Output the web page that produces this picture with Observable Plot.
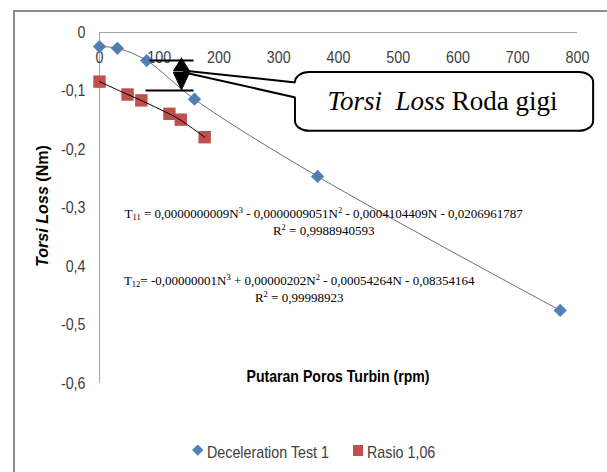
<!DOCTYPE html>
<html>
<head>
<meta charset="utf-8">
<script src="https://cdn.jsdelivr.net/npm/d3@7"></script>
<script src="https://cdn.jsdelivr.net/npm/@observablehq/plot@0.6"></script>
<style>
  html, body { margin: 0; padding: 0; background: #fff; }
  #wrap { position: relative; width: 607px; height: 472px; overflow: hidden; background: #fff; }
  #frame { position: absolute; left: 13px; top: 10px; width: 700px; height: 500px;
           border-left: 2px solid #8c8c8c; border-top: 2px solid #8c8c8c; box-sizing: border-box; }
  #chart { position: absolute; left: 0; top: 0; }
  #legend { position: absolute; left: 0; top: 432px; width: 607px; height: 40px;
            font-family: 'Liberation Sans', Arial, sans-serif; font-size: 17px; color: #404040; }
  .lg { position: absolute; white-space: nowrap; line-height: 1; transform: scaleX(0.84); transform-origin: 0 50%; }
  .dia { position: absolute; width: 7.5px; height: 7.5px; background: #4f81bd; transform: rotate(45deg); }
  .sq { position: absolute; width: 10px; height: 11px; background: #c0504d; }
</style>
</head>
<body>
<div id="wrap">
  <div id="frame"></div>
  <div id="chart"></div>
  <div id="legend"></div>
</div>
<script>
// ---- data ----
const xTicks = [0, 100, 200, 300, 400, 500, 600, 700, 800];
const yTicks = [0, -0.1, -0.2, -0.3, -0.4, -0.5, -0.6];
const yTickLabels = ["0", "-0,1", "-0,2", "-0,3", "0,4", "-0,5", "-0,6"];

const decelRpm  = [0, 30, 79, 159, 365, 771];
const decelLoss = [-0.024, -0.027, -0.048, -0.114, -0.246, -0.475];
const rasioRpm  = [0, 47, 70, 117, 136, 176];
const rasioLoss = [-0.084, -0.106, -0.116, -0.139, -0.149, -0.179];

const seriesNames = ["Deceleration Test 1", "Rasio 1,06"];
const xTitle = "Putaran Poros Turbin (rpm)";
const calloutText = ["Torsi\u00a0 Loss", " Roda gigi"];

// annotation geometry, in data units (rpm, Nm)
const calloutBox = [{x1: 328, x2: 827, y1: -0.0684, y2: -0.169}];
const pointerLines = [
  {x1: 139, y1: -0.0650, x2: 328, y2: -0.0855},
  {x1: 140, y1: -0.0680, x2: 328, y2: -0.1110}
];
const pointerGap = [{x1: 328, y1: -0.0850, x2: 328, y2: -0.1115}];
const gapBars = [
  {x1: 83.7, x2: 157.3, y: -0.0479},
  {x1: 77.0, x2: 157.3, y: -0.0991}
];
const arrowUp   = [{x: 137.2, y: -0.0436}, {x: 150.6, y: -0.0658}, {x: 123.8, y: -0.0658}, {x: 137.2, y: -0.0436}];
const arrowDown = [{x: 123.8, y: -0.0684}, {x: 150.6, y: -0.0684}, {x: 137.2, y: -0.0983}, {x: 123.8, y: -0.0684}];

const decel = decelRpm.map((x, i) => ({rpm: x, loss: decelLoss[i]}));
const rasio = rasioRpm.map((x, i) => ({rpm: x, loss: rasioLoss[i]}));

const SANS = "'Liberation Sans',Arial,sans-serif";
const SERIF = "'Liberation Serif','Times New Roman',serif";
const BLUE = "#4f81bd", RED = "#c0504d";

const plot = Plot.plot({
  width: 607,
  height: 432,
  marginLeft: 99,
  marginRight: 30,
  marginTop: 32,
  marginBottom: 49,
  x: {domain: [0, 800], axis: null},
  y: {domain: [-0.6, 0], axis: null},
  style: {background: "transparent", overflow: "visible", fontFamily: SANS},
  marks: [
    Plot.ruleY([0], {stroke: "#a6a6a6", strokeWidth: 1}),
    Plot.ruleX([0], {stroke: "#a6a6a6", strokeWidth: 1}),
    Plot.text(xTicks, {x: d => d, y: () => 0, dy: 25, text: d => String(d),
      fontSize: 17, fill: "#404040", fontFamily: SANS}),
    Plot.text(yTicks, {x: () => 0, y: d => d, dx: -14, textAnchor: "end",
      text: (d, i) => yTickLabels[i], fontSize: 17, fill: "#404040", fontFamily: SANS}),
    // series markers
    Plot.dot(decel, {x: "rpm", y: "loss", symbol: "diamond2", r: 6, fill: BLUE, stroke: "none"}),
    Plot.dot(rasio, {x: "rpm", y: "loss", symbol: "square", r: 7, fill: RED, stroke: "none"}),
    // trend lines (drawn over the markers)
    Plot.line(decel, {x: "rpm", y: "loss", curve: "catmull-rom", stroke: "#6e6e6e", strokeWidth: 1}),
    Plot.line(rasio, {x: "rpm", y: "loss", curve: "basis", stroke: "#000", strokeWidth: 1}),
    // annotation: gap bars and double arrow
    Plot.link(gapBars, {x1: "x1", x2: "x2", y1: "y", y2: "y", stroke: "#000", strokeWidth: 2}),
    Plot.line(arrowUp, {x: "x", y: "y", fill: "#000", stroke: "#000", strokeWidth: 1}),
    Plot.line(arrowDown, {x: "x", y: "y", fill: "#000", stroke: "#000", strokeWidth: 1}),
    // callout
    Plot.rect(calloutBox, {x1: "x1", x2: "x2", y1: "y1", y2: "y2", rx: 14, ry: 10,
      fill: "#fff", stroke: "#000", strokeWidth: 2}),
    Plot.link(pointerGap, {x1: "x1", x2: "x2", y1: "y1", y2: "y2", stroke: "#fff", strokeWidth: 4}),
    Plot.link(pointerLines, {x1: "x1", x2: "x2", y1: "y1", y2: "y2", stroke: "#000", strokeWidth: 2})
  ]
});

document.getElementById("chart").appendChild(plot);

const svg = d3.select(plot);

// condense the Calibri-like tick labels (the reference type is narrow)
svg.selectAll("text").each(function () {
  const L = this.getComputedTextLength();
  this.setAttribute("textLength", (L * 0.84).toFixed(2));
  this.setAttribute("lengthAdjust", "spacingAndGlyphs");
});

const sx = plot.scale("x"), sy = plot.scale("y");

// y axis title
const yt = svg.append("text")
  .attr("transform", `translate(48,206) rotate(-90)`)
  .attr("text-anchor", "middle")
  .attr("font-family", SANS).attr("font-size", 16.5).attr("font-weight", "bold").attr("fill", "#000")
  .attr("textLength", 122).attr("lengthAdjust", "spacingAndGlyphs");
yt.append("tspan").attr("font-style", "italic").text("Torsi Loss");
yt.append("tspan").text(" (Nm)");

// x axis title
svg.append("text")
  .attr("x", sx.apply(400)).attr("y", sy.apply(-0.6) - 1)
  .attr("text-anchor", "middle")
  .attr("font-family", SANS).attr("font-size", 16.5).attr("font-weight", "bold").attr("fill", "#000")
  .attr("textLength", 183).attr("lengthAdjust", "spacingAndGlyphs")
  .text(xTitle);

// callout label
const ct = svg.append("text")
  .attr("x", sx.apply(575)).attr("y", sy.apply(-0.1325))
  .attr("text-anchor", "middle")
  .attr("font-family", SERIF).attr("font-size", 27).attr("fill", "#000");
ct.append("tspan").attr("font-style", "italic").text(calloutText[0]);
ct.append("tspan").text(calloutText[1]);

// equations
function eq(xv, yv, parts) {
  const t = svg.append("text")
    .attr("x", sx.apply(xv)).attr("y", sy.apply(yv))
    .attr("text-anchor", "middle")
    .attr("font-family", SERIF).attr("font-size", 13).attr("fill", "#000");
  for (const [s, kind] of parts) {
    const sp = t.append("tspan").text(s);
    if (kind === "sub") sp.attr("font-size", 8.5).attr("baseline-shift", "-2");
    if (kind === "sup") sp.attr("font-size", 8.5).attr("baseline-shift", "5");
  }
}
eq(376, -0.3185, [["T"], ["11", "sub"], [" = 0,0000000009N"], ["3", "sup"], [" - 0,0000009051N"], ["2", "sup"],
  [" - 0,0004104409N - 0,0206961787"]]);
eq(376, -0.3474, [["R"], ["2", "sup"], [" = 0,9988940593"]]);
eq(335, -0.4325, [["T"], ["12", "sub"], ["= -0,00000001N"], ["3", "sup"], [" + 0,00000202N"], ["2", "sup"],
  [" - 0,00054264N - 0,08354164"]]);
eq(335, -0.4615, [["R"], ["2", "sup"], [" = 0,99998923"]]);

// legend (below the SVG)
const lg = document.getElementById("legend");
lg.innerHTML = `
  <div class="dia" style="left:194px; top:14px;"></div>
  <div class="lg" style="left:207px; top:12px;">${seriesNames[0]}</div>
  <div class="sq" style="left:353px; top:13px;"></div>
  <div class="lg" style="left:367px; top:12px;">${seriesNames[1]}</div>`;
</script>
</body>
</html>
